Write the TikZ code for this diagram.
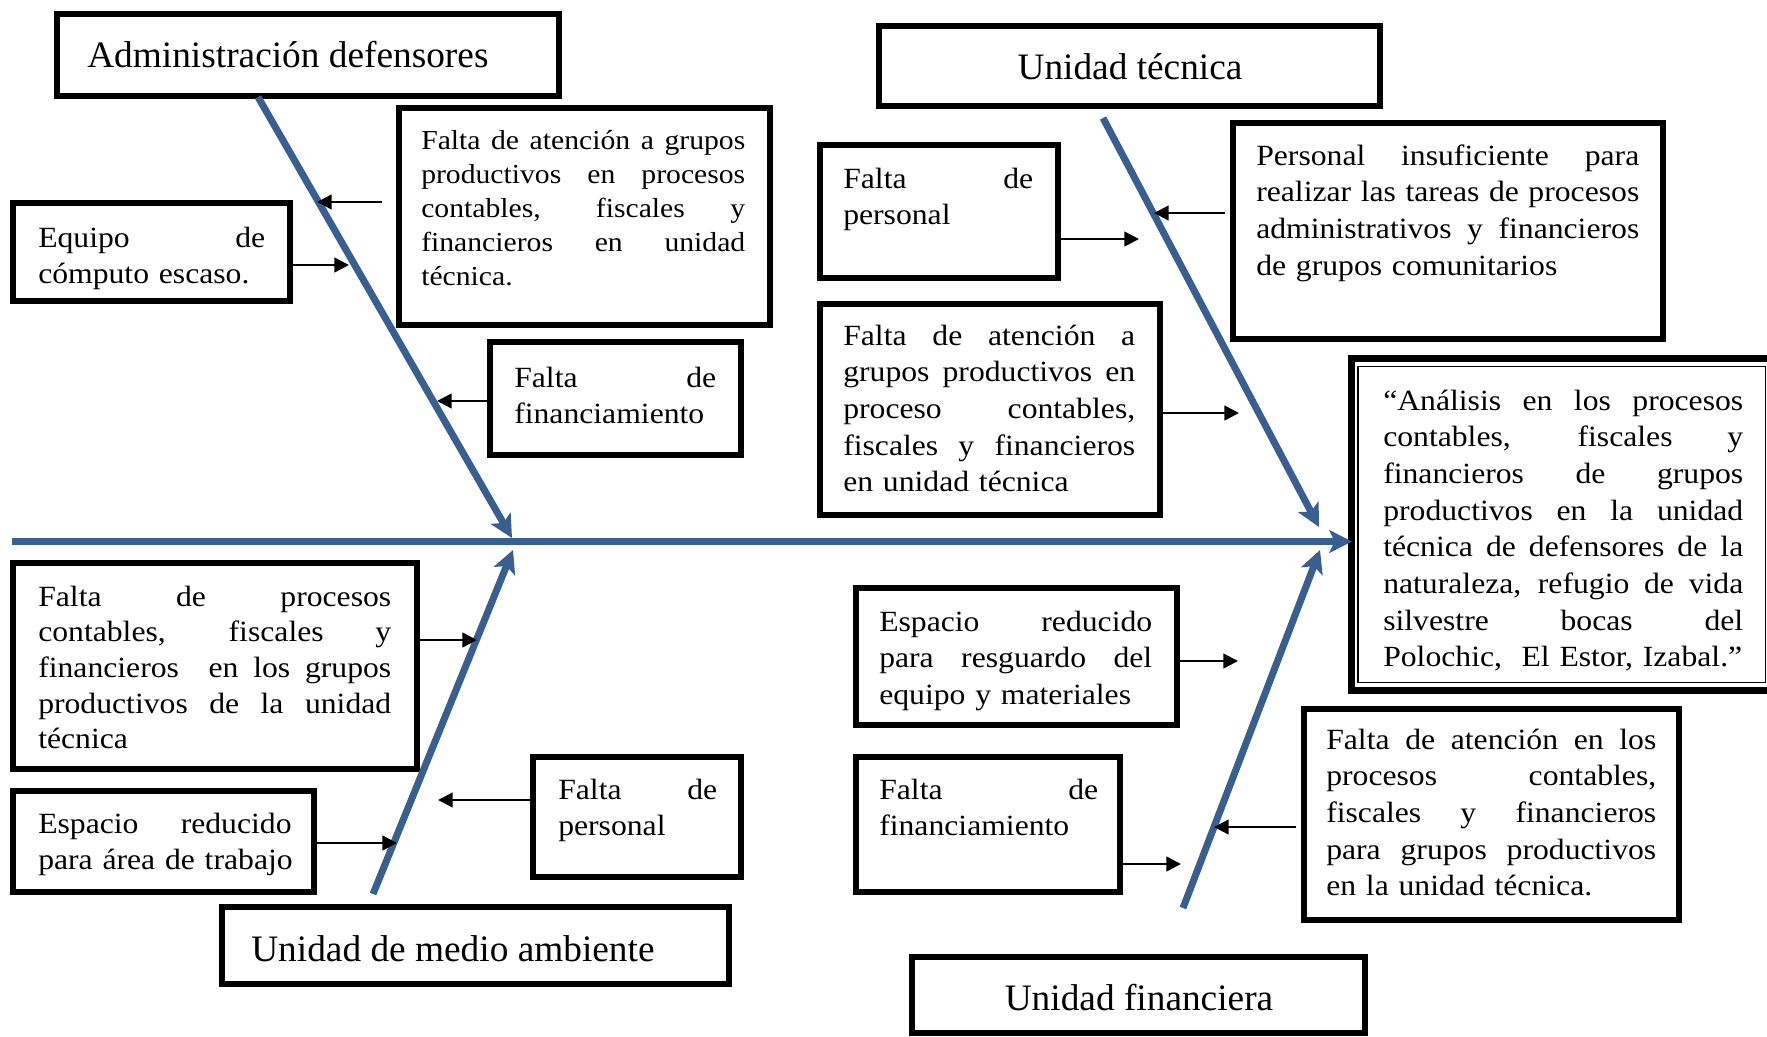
\documentclass[tikz,border=0pt]{standalone}
\usepackage{fontspec}
\setmainfont{Liberation Serif}[FakeStretch=1.08]
\newfontfamily\titlefont{Liberation Serif}
\usetikzlibrary{arrows.meta}
\definecolor{bonecol}{RGB}{56,95,143}
\newcommand\jl[1]{\leavevmode\hbox to \hsize{\spaceskip=0.25em plus 10em\relax #1}}
\newcommand\bx[5]{\node[box, minimum width={(#4-#2)*0.75pt-4.5pt}, minimum height={(#5-#3)*0.75pt-4.5pt}] (#1) at (#2,#3) {};}
\begin{document}
\begin{tikzpicture}[x=0.75pt,y=-0.75pt,
  box/.style={draw=black, line width=4.5pt, inner sep=0pt, outer sep=2.25pt, anchor=north west},
  txt/.style={inner sep=0pt, anchor=base west, font=\fontsize{22pt}{27.5pt}\selectfont},
  ttl/.style={inner sep=0pt, font=\titlefont\fontsize{28pt}{33pt}\selectfont},
  bone/.style={draw=bonecol, line width=5.25pt, -{Stealth[length=17pt,width=17pt,inset=4pt]}},
  arr/.style={draw=black, line width=1.8pt, -{Triangle[length=11pt,width=11pt]}}]
\useasboundingbox (0,0) rectangle (1767,1036);
\clip (0,0) rectangle (1767,1036);

% boxes
\bx{admin}{54}{11}{562}{99}
\bx{tecnica}{876}{23}{1383}{109}
\bx{medio}{219}{904}{732}{987}
\bx{financiera}{909}{954}{1368}{1036}
\bx{equipo}{10}{200}{293}{304}
\bx{atenUL}{396}{105}{773}{328}
\bx{finUL}{487}{339}{744}{458}
\bx{persUM}{817}{142}{1061}{281}
\bx{atenM}{817}{301}{1163}{518}
\bx{persIns}{1230}{120}{1666}{342}
\bx{procLL}{10}{560}{420}{772}
\bx{espLL}{10}{788}{317}{895}
\bx{persLow}{530}{754}{744}{880}
\bx{espLR}{853}{585}{1180}{728}
\bx{finLR}{853}{754}{1123}{895}
\bx{atenLR}{1301}{706}{1682}{923}
% central effect box (thick-thin border)
\node[box, line width=5.25pt, outer sep=2.625pt, minimum width={(1800-1348)*0.75pt-5.25pt}, minimum height={(694-355)*0.75pt-5.25pt}] (central) at (1348,355) {};
\node[draw=black, line width=1.1pt, inner sep=0pt, outer sep=0pt, anchor=north west, minimum width={(1765.5-1358)*0.75pt}, minimum height={(682.5-366.5)*0.75pt}] (centralin) at (1358,366.5) {};

% titles
\node[ttl, anchor=base west] (tadmin) at (87,67) {Administración defensores};
\node[ttl, anchor=base] (ttecnica) at (1130,79) {Unidad técnica};
\node[ttl, anchor=base west] (tmedio) at (251,961) {Unidad de medio ambiente};
\node[ttl, anchor=base] (tfinanciera) at (1139,1010) {Unidad financiera};

% texts
\node[txt, text width=243pt, font=\fontsize{20.6pt}{25.5pt}\selectfont] (tatenUL) at (421,149)
 {\jl{Falta de atención a grupos}\\\jl{productivos en procesos}\\\jl{contables, fiscales y}\\\jl{financieros en unidad}\\técnica.};
\node[txt, text width=170.25pt] (tequipo) at (38,247) {\jl{Equipo de}\\cómputo escaso.};
\node[txt, text width=151.5pt] (tfinUL) at (514,387) {\jl{Falta de}\\financiamiento};
\node[txt, text width=142.5pt] (tpersUM) at (843,188) {\jl{Falta de}\\personal};
\node[txt, text width=219pt] (tatenM) at (843,345)
 {\jl{Falta de atención a}\\\jl{grupos productivos en}\\\jl{proceso contables,}\\\jl{fiscales y financieros}\\en unidad técnica};
\node[txt, text width=287.25pt] (tpersIns) at (1256,165)
 {\jl{Personal insuficiente para}\\\jl{realizar las tareas de procesos}\\\jl{administrativos y financieros}\\de grupos comunitarios};
\node[txt, text width=270pt] (tcentral) at (1383,410)
 {\jl{“Análisis en los procesos}\\\jl{contables, fiscales y}\\\jl{financieros de grupos}\\\jl{productivos en la unidad}\\\jl{técnica de defensores de la}\\\jl{naturaleza, refugio de vida}\\\jl{silvestre bocas del}\\Polochic,\ \ El Estor, Izabal.”};
\node[txt, text width=264.75pt, font=\fontsize{22pt}{26.8pt}\selectfont] (tprocLL) at (38,606)
 {\jl{Falta de procesos}\\\jl{contables, fiscales y}\\\jl{financieros\ \ en los grupos}\\\jl{productivos de la unidad}\\técnica};
\node[txt, text width=190pt] (tespLL) at (38,833) {\jl{Espacio reducido}\\\mbox{para área de trabajo}};
\node[txt, text width=119.25pt] (tpersLow) at (558,799) {\jl{Falta de}\\personal};
\node[txt, text width=204.75pt] (tespLR) at (879,631) {\jl{Espacio reducido}\\\jl{para resguardo del}\\equipo y materiales};
\node[txt, text width=164.25pt] (tfinLR) at (879,799) {\jl{Falta de}\\financiamiento};
\node[txt, text width=247.5pt] (tatenLR) at (1326,749)
 {\jl{Falta de atención en los}\\\jl{procesos contables,}\\\jl{fiscales y financieros}\\\jl{para grupos productivos}\\en la unidad técnica.};

% fish bones
\coordinate (spineS) at (12,541.5);
\coordinate (spineE) at (1352,541.5);
\coordinate (b1s) at (258,97);   \coordinate (b1e) at (512,538);
\coordinate (b2s) at (1103,118); \coordinate (b2e) at (1319,527);
\coordinate (b3s) at (373,894);  \coordinate (b3e) at (513,550);
\coordinate (b4s) at (1183,908); \coordinate (b4e) at (1320,550);
\draw[bone] (spineS) -- (spineE);
\draw[bone] (b1s) -- (b1e);
\draw[bone] (b2s) -- (b2e);
\draw[bone] (b3s) -- (b3e);
\draw[bone] (b4s) -- (b4e);

% cause arrows
\coordinate (ea) at (317,202);
\coordinate (eb) at (349,265);
\coordinate (ec) at (437,401);
\coordinate (ed) at (1139,239);
\coordinate (ee) at (1154,213);
\coordinate (ef) at (1239,413);
\coordinate (eg) at (477,640);
\coordinate (eh) at (397,843);
\coordinate (ei) at (438,800);
\coordinate (ej) at (1238,661);
\coordinate (ek) at (1181,864);
\coordinate (el) at (1214,827);
\draw[arr, shorten <=10.5pt] (atenUL.west |- ea) -- (ea);
\draw[arr] (equipo.east |- eb) -- (eb);
\draw[arr] (finUL.west |- ec) -- (ec);
\draw[arr] (persUM.east |- ed) -- (ed);
\draw[arr, shorten <=3.75pt] (persIns.west |- ee) -- (ee);
\draw[arr] (atenM.east |- ef) -- (ef);
\draw[arr] (procLL.east |- eg) -- (eg);
\draw[arr] (espLL.east |- eh) -- (eh);
\draw[arr] (persLow.west |- ei) -- (ei);
\draw[arr] (espLR.east |- ej) -- (ej);
\draw[arr] (finLR.east |- ek) -- (ek);
\draw[arr, shorten <=3.75pt] (atenLR.west |- el) -- (el);
\end{tikzpicture}
\end{document}
